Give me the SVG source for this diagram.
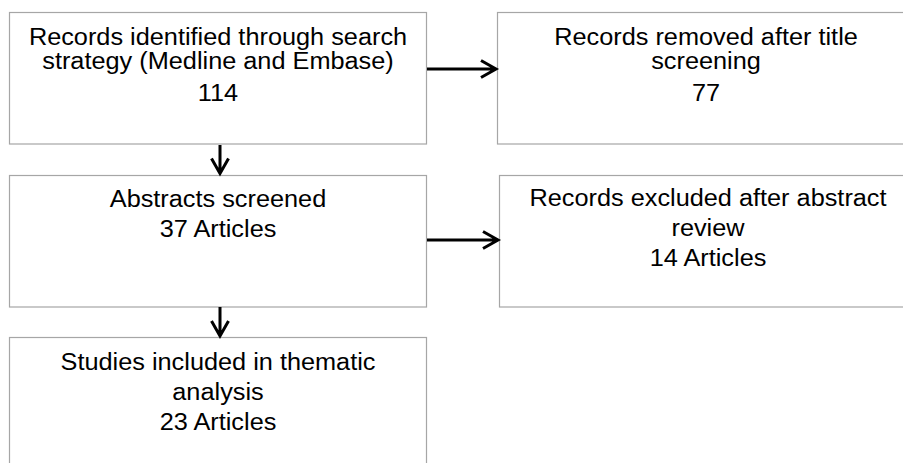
<svg xmlns="http://www.w3.org/2000/svg" width="903" height="463" viewBox="0 0 903 463">
<style>
.box{fill:#fff;stroke:#a6a6a6;stroke-width:1.2}
.t{font-family:"Liberation Sans",Arial,sans-serif;font-size:23.3px;fill:#000;text-anchor:middle}
.c{fill:none;stroke:#000;stroke-width:3}
</style>
<rect width="903" height="463" fill="#fff"/>
<g id="n1">
<rect class="box" x="9.5" y="12.5" width="417" height="131.5"/>
<g transform="translate(218 0) scale(1.086 1)">
<text class="t" x="0" y="45">Records identified through search</text>
<text class="t" x="0" y="69">strategy (Medline and Embase)</text>
<text class="t" x="0" y="101">114</text>
</g>
</g>
<g id="n2">
<rect class="box" x="497.5" y="12.5" width="420" height="131.5"/>
<g transform="translate(706 0) scale(1.086 1)">
<text class="t" x="0" y="45">Records removed after title</text>
<text class="t" x="0" y="69">screening</text>
<text class="t" x="0" y="101">77</text>
</g>
</g>
<g id="n3">
<rect class="box" x="9.5" y="175.5" width="417" height="131.5"/>
<g transform="translate(218 0) scale(1.086 1)">
<text class="t" x="0" y="207">Abstracts screened</text>
<text class="t" x="0" y="237">37 Articles</text>
</g>
</g>
<g id="n4">
<rect class="box" x="499.5" y="175.5" width="420" height="131.5"/>
<g transform="translate(708 0) scale(1.086 1)">
<text class="t" x="0" y="206">Records excluded after abstract</text>
<text class="t" x="0" y="236">review</text>
<text class="t" x="0" y="266">14 Articles</text>
</g>
</g>
<g id="n5">
<rect class="box" x="9.5" y="337.5" width="417" height="140"/>
<g transform="translate(218 0) scale(1.086 1)">
<text class="t" x="0" y="370">Studies included in thematic</text>
<text class="t" x="0" y="400">analysis</text>
<text class="t" x="0" y="430">23 Articles</text>
</g>
</g>
<g id="connectors">
<path class="c" d="M427 69H496M481 60.5L496 69L481 77.5"/>
<path class="c" d="M427 240H498M483 231.5L498 240L483 248.5"/>
<path class="c" d="M220 145V173.5M211.5 158.5L220 173.5L228.5 158.5"/>
<path class="c" d="M220 307V336M211.5 321L220 336L228.5 321"/>
</g>
</svg>
